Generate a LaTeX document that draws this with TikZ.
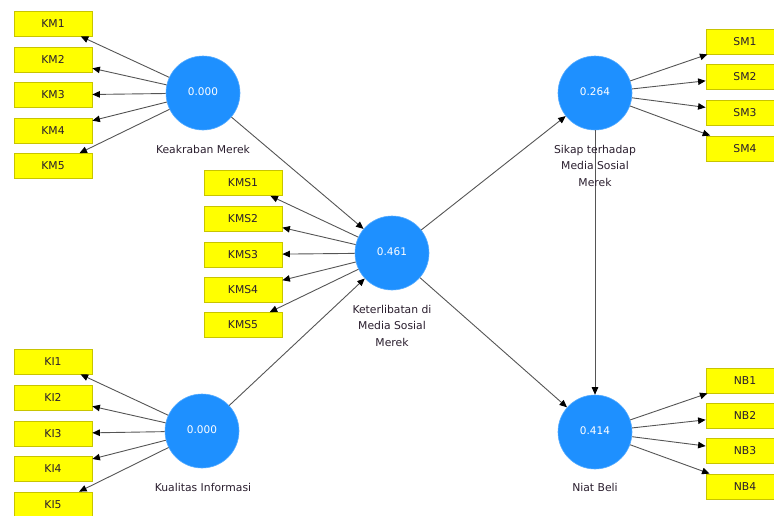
\documentclass[tikz,border=0pt]{standalone}
\usepackage{fontspec}
\setmainfont{DejaVu Sans}
\usetikzlibrary{arrows.meta}
\definecolor{lvfill}{HTML}{1E90FF}
\definecolor{mvfill}{HTML}{FFFF00}
\definecolor{mvline}{HTML}{C8C400}
\definecolor{pathgray}{HTML}{555555}
\definecolor{labtext}{HTML}{2A1E2E}

\begin{document}
\begin{tikzpicture}[x=1pt,y=-1pt,
  latent/.style={circle, fill=lvfill, draw=lvfill!75!white, line width=0.6pt,
    minimum size=74pt, inner sep=0pt, text=white,
    font=\fontsize{10.5}{12}\selectfont},
  indicator/.style={rectangle, fill=mvfill, draw=mvline, line width=0.8pt,
    minimum width=78pt, minimum height=25pt, inner sep=0pt, text=labtext,
    font=\fontsize{10.8}{12}\selectfont},
  caption/.style={anchor=north, align=center, inner sep=0pt, text=labtext,
    font=\fontsize{10.8}{16.5}\selectfont},
  link/.style={draw=pathgray, line width=0.9pt,
    -{Triangle[length=7.5pt,width=6.5pt,color=black]}}
]
\useasboundingbox (0,0) rectangle (774,515);
\clip (0,0) rectangle (774,515);

% latent variables
\node[latent] (KMR) at (203,93)  {\raisebox{3.5pt}{0.000}};
\node[latent] (KMS) at (392,253) {\raisebox{3.5pt}{0.461}};
\node[latent] (KIQ) at (202,431) {\raisebox{3.5pt}{0.000}};
\node[latent] (SMS) at (595,93)  {\raisebox{3.5pt}{0.264}};
\node[latent] (NBL) at (595,432) {\raisebox{3.5pt}{0.414}};

% structural paths
\draw[link] (KMR) -- (KMS);
\draw[link] (KIQ) -- (KMS);
\draw[link] (KMS) -- (SMS);
\draw[link] (KMS) -- (NBL);
\draw[link] (SMS) -- (NBL);

% captions
\node[caption] (capKMR) at (203,145) {Keakraban Merek};
\node[caption] (capKMS) at (392,305) {Keterlibatan di\\Media Sosial\\Merek};
\node[caption] (capKIQ) at (203,483) {Kualitas Informasi};
\node[caption] (capSMS) at (595,145) {Sikap terhadap\\Media Sosial\\Merek};
\node[caption] (capNBL) at (595,483) {Niat Beli};

% indicators
\foreach \i/\y in {1/23.5,2/59.5,3/95,4/130.5,5/166}{
  \node[indicator] (KM\i) at (53,\y) {KM\i};
  \draw[link] (KMR) -- (KM\i);
}
\foreach \i/\y in {1/183,2/218.5,3/254.5,4/290,5/325}{
  \node[indicator] (KMS\i) at (243,\y) {KMS\i};
  \draw[link] (KMS) -- (KMS\i);
}
\foreach \i/\y in {1/361.5,2/397.5,3/433.5,4/469,5/504.5}{
  \node[indicator] (KI\i) at (53,\y) {KI\i};
  \draw[link] (KIQ) -- (KI\i);
}
\foreach \i/\y in {1/41.5,2/76.5,3/112.5,4/148.5}{
  \node[indicator] (SM\i) at (745,\y) {SM\i};
  \draw[link] (SMS) -- (SM\i);
}
\foreach \i/\y in {1/380.5,2/415.5,3/451,4/486.5}{
  \node[indicator] (NB\i) at (745,\y) {NB\i};
  \draw[link] (NBL) -- (NB\i);
}
\end{tikzpicture}
\end{document}
